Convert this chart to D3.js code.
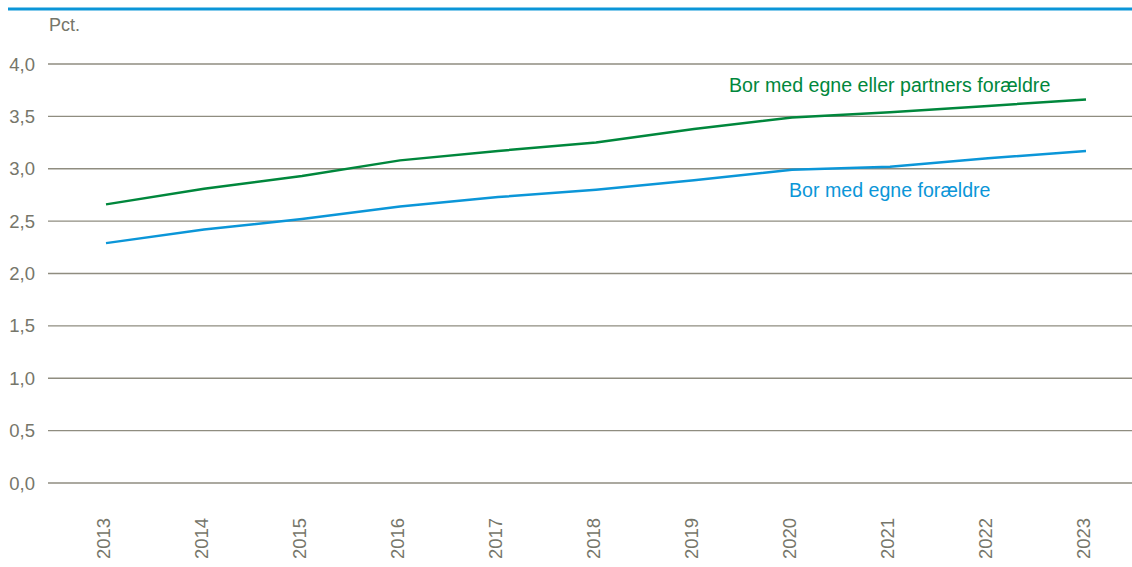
<!DOCTYPE html>
<html>
<head>
<meta charset="utf-8">
<script src="https://cdn.jsdelivr.net/npm/d3@7"></script>
<style>
    body { margin: 0; background: #fff; }
    text { font-family: "Liberation Sans", Arial, sans-serif; }
</style>
</head>
<body>
<div id="scene"></div>
<script>
const years = [2013, 2014, 2015, 2016, 2017, 2018, 2019, 2020, 2021, 2022, 2023];
const egneEllerPartners = [2.66, 2.81, 2.93, 3.08, 3.17, 3.25, 3.38, 3.49, 3.54, 3.60, 3.66];
const egneForaeldre = [2.29, 2.42, 2.52, 2.64, 2.73, 2.80, 2.89, 2.99, 3.02, 3.10, 3.17];
const yTicks = [0, 0.5, 1, 1.5, 2, 2.5, 3, 3.5, 4];

const width = 1132;
const height = 567;
const gridLeft = 48;
const textColor = '#76766a';
const gridColor = '#8f8d80';
const green = '#00873c';
const blue = '#0b96d8';

const xScale = d3.scalePoint().domain(years).range([106, 1086]);
const yScale = d3.scaleLinear().domain([0, 4]).range([483, 64]);

const svg = d3.select('#scene')
    .append('svg')
    .attr('width', width)
    .attr('height', height);

// top rule
svg.append('line')
    .attr('x1', 8)
    .attr('x2', width)
    .attr('y1', 9)
    .attr('y2', 9)
    .attr('stroke', blue)
    .attr('stroke-width', 3);

svg.append('text')
    .attr('x', 49)
    .attr('y', 31)
    .attr('fill', textColor)
    .attr('font-size', 18)
    .text('Pct.');

// gridlines + y labels
svg.selectAll('.grid')
    .data(yTicks)
    .enter().append('line')
    .attr('class', 'grid')
    .attr('x1', gridLeft)
    .attr('x2', width)
    .attr('y1', d => yScale(d))
    .attr('y2', d => yScale(d))
    .attr('stroke', gridColor)
    .attr('stroke-width', 1.3);

svg.selectAll('.yLabel')
    .data(yTicks)
    .enter().append('text')
    .attr('class', 'yLabel')
    .attr('x', 35)
    .attr('y', d => yScale(d))
    .attr('dy', 6.6)
    .attr('text-anchor', 'end')
    .attr('fill', textColor)
    .attr('font-size', 18.5)
    .text(d => d3.format('.1f')(d).replace('.', ','));

// x labels, rotated
svg.selectAll('.xLabel')
    .data(years)
    .enter().append('text')
    .attr('class', 'xLabel')
    .attr('transform', d => `translate(${xScale(d) + 4},559) rotate(-90)`)
    .attr('text-anchor', 'start')
    .attr('fill', textColor)
    .attr('font-size', 18.5)
    .text(String);

const line = d3.line()
    .x((d, i) => xScale(years[i]))
    .y(d => yScale(d));

svg.append('path')
    .datum(egneEllerPartners)
    .attr('d', line)
    .attr('fill', 'none')
    .attr('stroke', green)
    .attr('stroke-width', 2.5);

svg.append('path')
    .datum(egneForaeldre)
    .attr('d', line)
    .attr('fill', 'none')
    .attr('stroke', blue)
    .attr('stroke-width', 2.5);

svg.append('text')
    .attr('x', 729)
    .attr('y', 92)
    .attr('fill', green)
    .attr('font-size', 19.6)
    .text('Bor med egne eller partners forældre');

svg.append('text')
    .attr('x', 789)
    .attr('y', 197)
    .attr('fill', blue)
    .attr('font-size', 19.6)
    .text('Bor med egne forældre');
</script>
</body>
</html>
